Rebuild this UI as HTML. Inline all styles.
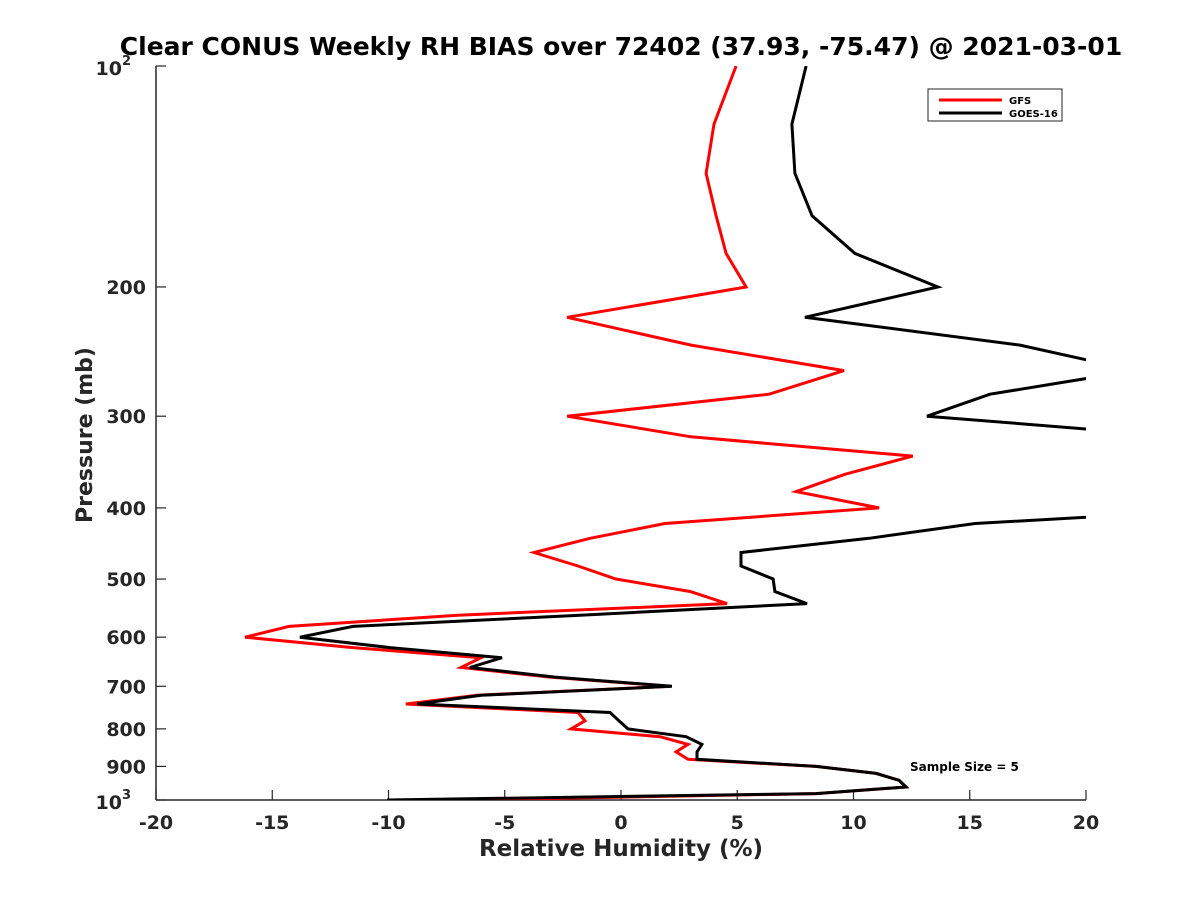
<!DOCTYPE html>
<html><head><meta charset="utf-8"><style>
body{margin:0;background:#fff;}
svg{display:block;font-family:"DejaVu Sans","Liberation Sans",sans-serif;font-weight:bold;}
</style></head><body>
<svg id="chart" width="1200" height="900">
<rect width="1200" height="900" fill="#fff"/>
<text x="621" y="55" text-anchor="middle" font-size="25" fill="#000">Clear CONUS Weekly RH BIAS over 72402 (37.93, -75.47) @ 2021-03-01</text>
<g id="axes"></g>
<g id="series"></g>
<g>
<rect x="928" y="89" width="134" height="32" fill="#fff" stroke="#262626" stroke-width="1"/>
<line x1="939" y1="100" x2="1002" y2="100" stroke="#ff0000" stroke-width="3"/>
<text x="1009" y="104" font-size="10">GFS</text>
<line x1="939" y1="113" x2="1002" y2="113" stroke="#000" stroke-width="3"/>
<text x="1009" y="117" font-size="10">GOES-16</text>
</g>
<text x="910" y="771" font-size="12">Sample Size = 5</text>
<text x="621" y="856" text-anchor="middle" font-size="23" fill="#262626">Relative Humidity (%)</text>
<text transform="translate(92,435) rotate(-90)" text-anchor="middle" font-size="22" fill="#262626">Pressure (mb)</text>
</svg>
<script>
const pressures = [100,120,140,160,180,200,220,240,260,280,300,320,340,360,380,400,420,440,460,480,500,520,540,560,580,600,620,640,660,680,700,720,740,760,780,800,820,840,860,880,900,920,940,960,980,1000];
const gfsBias = [4.95,4.0,3.66,4.09,4.52,5.38,-2.32,3.01,9.59,6.37,-2.32,3.01,12.55,9.63,7.53,11.1,1.89,-1.33,-3.74,-1.85,-0.22,2.97,4.56,-7.01,-14.28,-16.17,-11.53,-6.02,-6.88,-3.05,2.11,-6.19,-9.25,-1.85,-1.55,-2.15,1.68,2.88,2.37,2.88,8.39,10.97,11.96,12.26,8.39,-6.8];
const goesBias = [7.96,7.35,7.48,8.22,10.06,13.63,7.91,17.16,22.1,15.87,13.16,24.2,26,26,26,27.2,15.23,10.67,5.16,5.16,6.54,6.62,8.0,-1.76,-11.53,-13.81,-9.94,-5.12,-6.5,-2.84,2.19,-6.02,-8.77,-0.47,-0.09,0.3,2.8,3.48,3.27,3.27,8.39,10.97,11.96,12.26,8.39,-10.06];
const xTicks = [-20,-15,-10,-5,0,5,10,15,20];
const yTicks = [200,300,400,500,600,700,800,900];

const X0=156,X1=1086,Y0=66,Y1=800;
function xs(v){return X0+(v+20)/40*(X1-X0);}
function ys(p){return Y0+Math.log10(p/100)*(Y1-Y0);}
const NS="http://www.w3.org/2000/svg";
const axes=document.getElementById('axes');
const ser=document.getElementById('series');
function mk(tag,attrs,parent){const e=document.createElementNS(NS,tag);for(const k in attrs)e.setAttribute(k,attrs[k]);parent.appendChild(e);return e;}

const defs=mk('defs',{},document.getElementById('chart'));
const cp=mk('clipPath',{id:'clip'},defs);
mk('rect',{x:X0,y:Y0,width:X1-X0,height:Y1-Y0},cp);

let a=mk('line',{x1:X0,y1:Y0,x2:X0,y2:Y1,stroke:'#262626','stroke-width':1.5},axes);


a=mk('line',{x1:X0,y1:Y1,x2:X1,y2:Y1,stroke:'#262626','stroke-width':1.5},axes);



xTicks.forEach(v=>{
  const x=xs(v);
  const t=mk('line',{x1:x,y1:Y1,x2:x,y2:Y1-10,stroke:'#262626','stroke-width':1.2},axes);
  
  
  const l=mk('text',{x:x,y:Y1+29,'text-anchor':'middle','font-size':19,fill:'#262626'},axes);
  l.textContent=String(v);
  
  
});
[100,1000].concat(yTicks).forEach(p=>{
  const y=ys(p);
  const t=mk('line',{x1:X0,y1:y,x2:X0+10,y2:y,stroke:'#262626','stroke-width':1.2},axes);
  
  
});
yTicks.forEach(p=>{
  const l=mk('text',{x:X0-10,y:ys(p)+7,'text-anchor':'end','font-size':19,fill:'#262626'},axes);
  l.textContent=p;
  
  
});
[[100,'2'],[1000,'3']].forEach(([p,e])=>{
  const l=mk('text',{x:X0-34,y:ys(p)+9,'text-anchor':'end','font-size':19,fill:'#262626'},axes);
  l.textContent='10';
  
  
  const s=mk('text',{x:X0-34,y:ys(p)-1,'font-size':13,fill:'#262626'},axes);
  s.textContent=e;
  
  
});

function drawLine(vals,color,name){
  const pts=vals.map((v,i)=>xs(v).toFixed(1)+','+ys(pressures[i]).toFixed(1)).join(' ');
  const pl=mk('polyline',{points:pts,fill:'none',stroke:color,'stroke-width':3,'stroke-linejoin':'miter','clip-path':'url(#clip)'},ser);
  
  
}
drawLine(gfsBias,'#ff0000','gfs-line');
drawLine(goesBias,'#000000','goes16-line');
</script>
</body></html>
